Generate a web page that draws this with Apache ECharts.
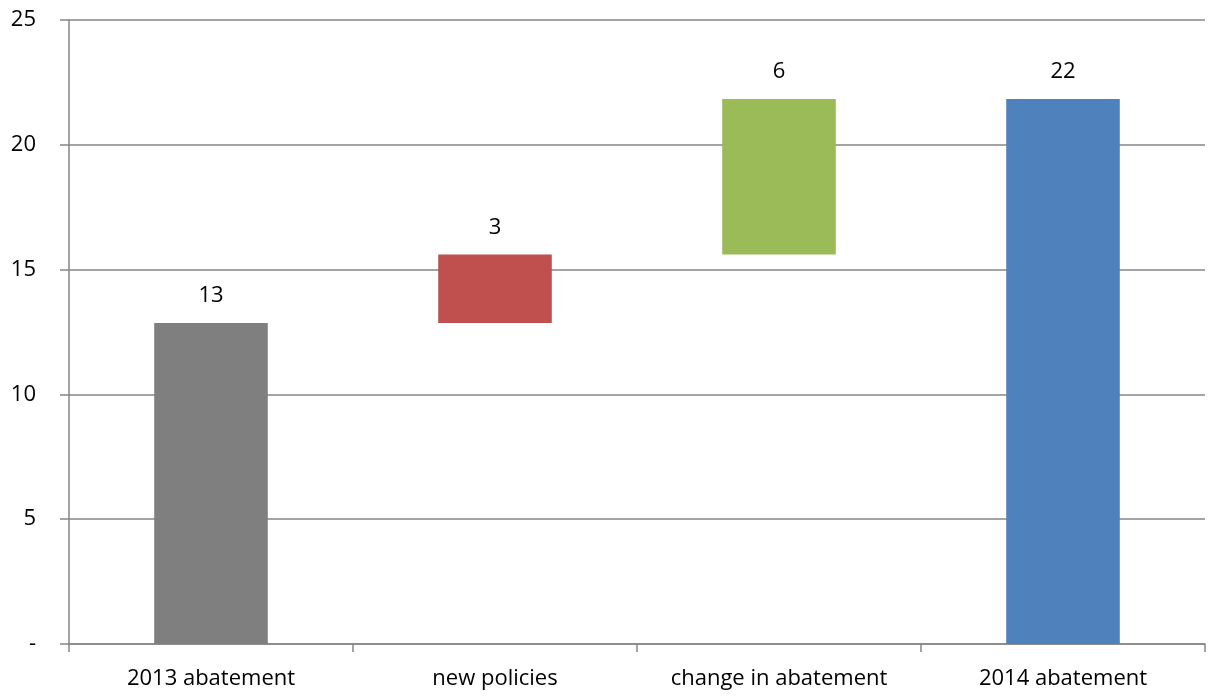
<!DOCTYPE html>
<html>
<head>
<meta charset="utf-8">
<script src="https://cdn.jsdelivr.net/npm/echarts@6/dist/echarts.min.js"></script>
<style>
  html, body { margin: 0; padding: 0; background: #fff; }
  #chart { width: 1208px; height: 697px; }
</style>
</head>
<body>
<div id="chart"></div>
<script>
// 分类
const categories = ['2013 abatement', 'new policies', 'change in abatement', '2014 abatement']
// 瀑布图底部（透明）
const baseValues = [0, 12.86, 15.6, 0]
// 可见的柱子高度
const stepValues = [12.86, 2.74, 6.23, 21.83]
// 柱子上方显示的数字
const labelTexts = ['13', '3', '6', '22']
const barColors = ['#7f7f7f', '#c0504d', '#9bbb59', '#4f81bd']

const FONT = 'Open Sans'
const FS = 22
const chart = echarts.init(document.getElementById('chart'))

const option = {
  animation: false,
  textStyle: { fontFamily: FONT },
  grid: { left: 69, right: 3, top: 20, bottom: 53 },
  xAxis: {
    type: 'category',
    data: categories,
    axisLine: { lineStyle: { color: '#868686', width: 1.5 } },
    axisTick: { show: true, alignWithLabel: false, length: 8, lineStyle: { color: '#868686', width: 1.5 } },
    axisLabel: { color: '#000', fontSize: FS, margin: 24, fontFamily: FONT }
  },
  yAxis: {
    type: 'value',
    min: 0,
    max: 25,
    interval: 5,
    axisLine: { show: true, lineStyle: { color: '#868686', width: 1.5 } },
    axisTick: { show: true, length: 9, lineStyle: { color: '#868686', width: 1.5 } },
    splitLine: { lineStyle: { color: '#868686', width: 1.5 } },
    axisLabel: {
      color: '#000',
      fontSize: FS,
      margin: 33,
      fontFamily: FONT,
      formatter: (v) => (v === 0 ? '-' : String(v))
    }
  },
  series: [
    {
      type: 'bar',
      stack: 'w',
      data: baseValues,
      itemStyle: { color: 'transparent' },
      barWidth: '40%',
      silent: true
    },
    {
      type: 'bar',
      stack: 'w',
      barWidth: '40%',
      data: stepValues.map((v, i) => ({ value: v, itemStyle: { color: barColors[i] } })),
      label: {
        show: true,
        position: 'top',
        distance: 16,
        color: '#000',
        fontSize: FS,
        fontFamily: FONT,
        formatter: (p) => labelTexts[p.dataIndex]
      }
    }
  ]
}

chart.setOption(option)
</script>
</body>
</html>
